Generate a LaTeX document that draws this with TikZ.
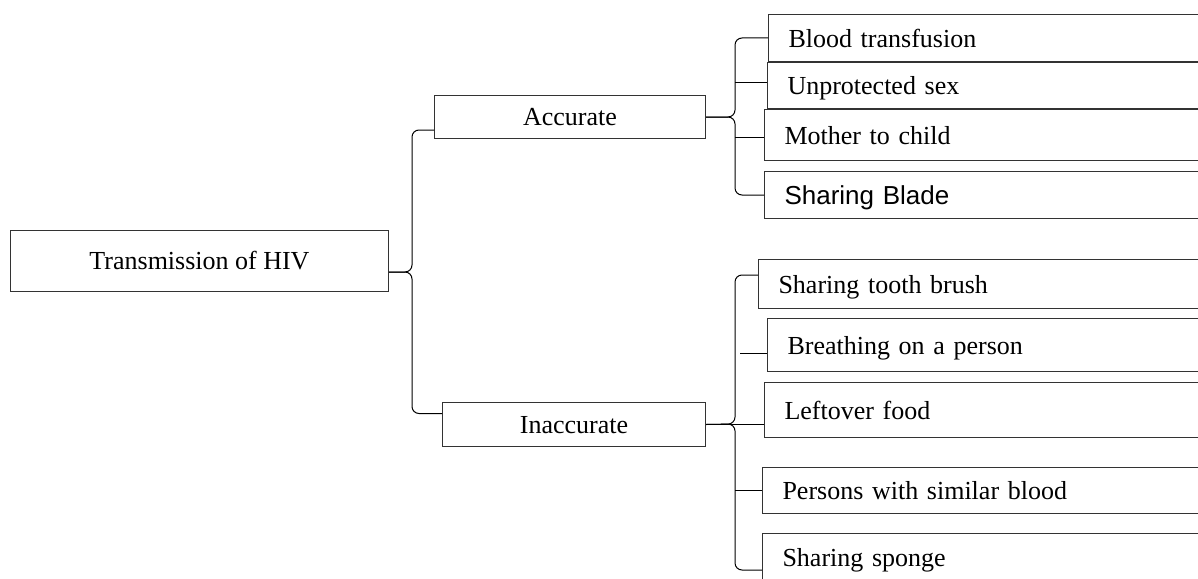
\documentclass[tikz,border=0pt]{standalone}
\usepackage{fontspec}
\setmainfont{Liberation Serif}
\newfontfamily\bladefont{Liberation Sans}
\tikzstyle{topic} = [rectangle, draw=black!80, line width=1pt, minimum width=378pt, minimum height=61pt, text centered, anchor=north west, font=\fontsize{26}{30}\selectfont]
\tikzstyle{group} = [rectangle, draw=black!80, line width=1pt, minimum width=271pt, minimum height=43pt, text centered, text depth=0pt, anchor=north west, font=\fontsize{26}{30}\selectfont]
\tikzstyle{item} = [rectangle, draw=black!80, line width=1pt, text width=430pt, inner xsep=20pt, align=left, text depth=0pt, anchor=north west, font=\fontsize{26}{30}\selectfont]
\tikzstyle{brace} = [draw, line width=1pt, rounded corners=7pt]

\begin{document}
\begin{tikzpicture}[x=1pt, y=-1pt]
        \useasboundingbox (0,0) rectangle (1198,578);
        \clip (0,0) rectangle (1198,578);

        \node[topic] (hiv) at (10,230) {Transmission of HIV};
        \node[group] (acc) at (434,95) {Accurate};
        \node[group, minimum width=263pt, minimum height=44pt] (inacc) at (442,402) {Inaccurate};

        \node[item, minimum height=47pt] (blood) at (768,14) {Blood transfusion};
        \node[item, minimum height=46pt] (unprot) at (767,62) {Unprotected sex};
        \node[item, minimum height=51pt] (mother) at (764,109) {Mother to child};
        \node[item, minimum height=47pt, font=\bladefont\fontsize{26}{30}\selectfont] (blade) at (764,171) {Sharing Blade};

        \node[item, minimum height=49pt] (tooth) at (758,259) {Sharing tooth brush};
        \node[item, minimum height=53pt] (breath) at (767,318) {Breathing on a person};
        \node[item, minimum height=55pt] (leftover) at (764,382) {Leftover food};
        \node[item, minimum height=46pt] (persons) at (762,467) {Persons with similar blood};
        \node[item, minimum height=47pt] (sponge) at (762,533) {Sharing sponge};

        \coordinate (hivspine) at (412,272);
        \coordinate (accspine) at (735,117);
        \coordinate (inspine) at (735,424);
        \coordinate (breathend) at (740,353);

        \draw[brace] ([yshift=-11pt]hiv.east) -- (hivspine) |- ([yshift=-13pt]acc.west);
        \draw[brace] ([yshift=-11pt]hiv.east) -- (hivspine) |- ([yshift=11pt]inacc.west);

        \draw[brace] (acc.east) -- (accspine) |- (blood.west);
        \draw[brace] (acc.east) -- (accspine) |- (blade.west);
        \draw[line width=1pt] ([yshift=3pt]unprot.west -| accspine) -- ([yshift=3pt]unprot.west);
        \draw[line width=1pt] ([yshift=-2pt]mother.west -| accspine) -- ([yshift=-2pt]mother.west);

        \draw[brace] (inacc.east) -- (inspine) |- ([yshift=9pt]tooth.west);
        \draw[brace] (inacc.east) -- (inspine) |- ([yshift=-13pt]sponge.west);
        \draw[line width=1pt] (inacc.east) -- (inacc.east -| leftover.west);
        \draw[line width=1pt] (breathend) -- (breathend -| breath.west);
        \draw[line width=1pt] (persons.west -| inspine) -- (persons.west);
    \end{tikzpicture}
\end{document}
